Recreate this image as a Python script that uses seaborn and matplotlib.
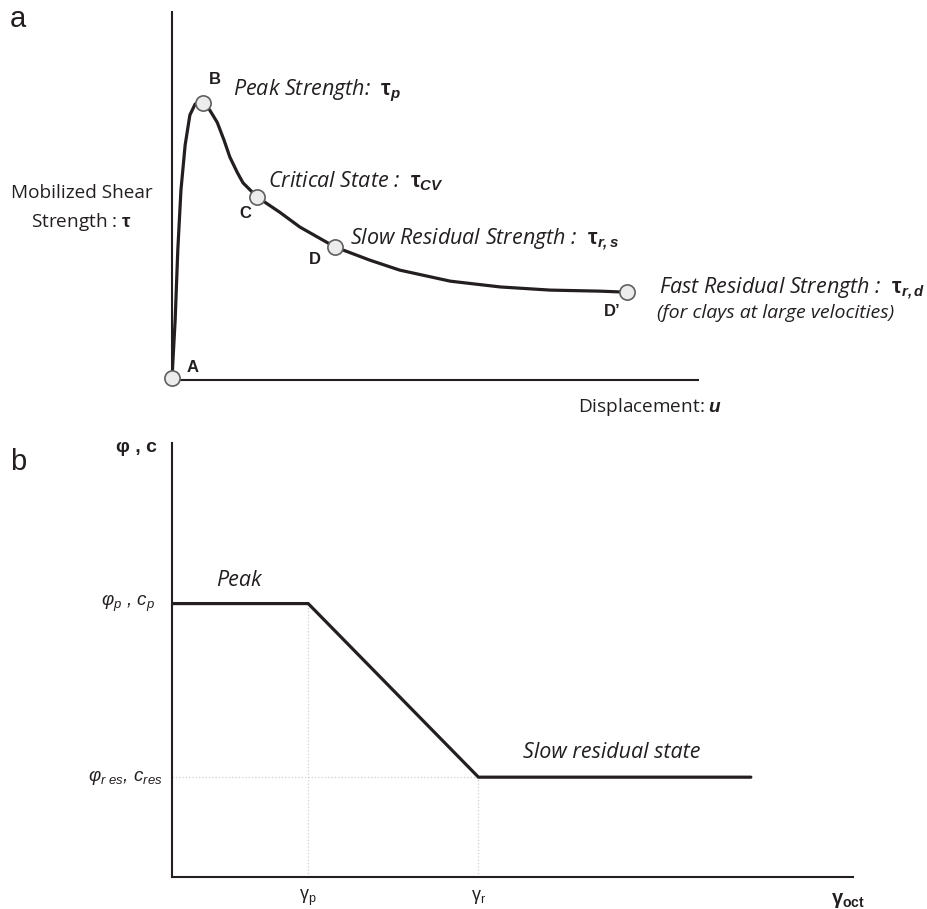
import numpy as np
import pandas as pd
import matplotlib.pyplot as plt
import seaborn as sns

# panel a - mobilized shear strength vs displacement (schematic units)
disp = [0, 0.6, 1.1, 1.7, 2.5, 3.4, 4.4, 5.9, 7.2, 8.6, 9.9, 11.0, 12.4, 13.5, 16.2,
        20.5, 24.3, 31.0, 37.6, 43.3, 52.9, 62.4, 71.9, 81.4, 86.5]
tau = [0.4, 11.4, 24.7, 36.1, 44.7, 50.4, 52.5, 52.7, 51.3, 49.0, 45.6, 42.4, 39.5, 37.5, 34.8,
       31.9, 29.1, 25.3, 22.8, 20.9, 18.8, 17.7, 17.1, 16.9, 16.7]
key_names = ['A', 'B', 'C', 'D', 'D\u2019']
key_disp = [0, 5.9, 16.2, 31.0, 86.5]
key_tau = [0.4, 52.7, 34.8, 25.3, 16.7]

# panel b - strength parameters vs octahedral shear strain
gamma = [0, 20, 45, 85]
strength = [63, 63, 23, 23]

sns.set_style('white')
plt.rcParams['font.family'] = ['Open Sans', 'DejaVu Sans']
plt.rcParams['mathtext.fontset'] = 'custom'
plt.rcParams['mathtext.rm'] = 'Liberation Sans'
plt.rcParams['mathtext.it'] = 'Liberation Sans:italic'
plt.rcParams['mathtext.bf'] = 'Liberation Sans:bold'
plt.rcParams['mathtext.bfit'] = 'Liberation Sans:bold:italic'

W, H = 927, 909
fig = plt.figure(figsize=(W / 100, H / 100), dpi=100)


def px(x, y):
    return x / W, 1 - y / H


ink = '#231f20'

# ---------------- panel a ----------------
ax1 = fig.add_axes([172 / W, 1 - 380 / H, 526 / W, 368 / H])
df_a = pd.DataFrame({'u': disp, 'tau': tau})
sns.lineplot(data=df_a, x='u', y='tau', sort=False, ax=ax1, color=ink, lw=2.3)
sns.scatterplot(x=key_disp, y=key_tau, ax=ax1, s=120, color='#ececec',
                edgecolor='#5f5f5f', linewidth=1.2, zorder=5, clip_on=False)
ax1.set_xlim(0, 100)
ax1.set_ylim(0, 70)
ax1.set_xticks([])
ax1.set_yticks([])
ax1.set_xlabel('')
ax1.set_ylabel('')
sns.despine(ax=ax1)
for s in ['left', 'bottom']:
    ax1.spines[s].set_color(ink)
    ax1.spines[s].set_linewidth(1.5)

bold = dict(family='Liberation Sans', weight='bold', fontsize=12, color=ink,
            ha='center', va='center')
for name, pos in zip(key_names, [(193, 367), (215, 80), (245, 213), (315, 260), (612, 311)]):
    fig.text(*px(*pos), name, **bold)

ital = dict(fontstyle='italic', fontsize=15.5, color=ink, ha='left', va='baseline')
fig.text(*px(233, 95), r'Peak Strength:  $\mathbf{\tau}_{\mathbfit{p}}$', **ital)
fig.text(*px(268, 187), r'Critical State :  $\mathbf{\tau}_{\mathbfit{CV}}$', **ital)
fig.text(*px(350, 244), r'Slow Residual Strength :  $\mathbf{\tau}_{\mathbfit{r,s}}$', **ital)
fig.text(*px(659, 293), r'Fast Residual Strength :  $\mathbf{\tau}_{\mathbfit{r,d}}$', **ital)
fig.text(*px(657, 318), '(for clays at large velocities)', fontstyle='italic', fontsize=14,
         color=ink, ha='left', va='baseline')

fig.text(*px(82, 193), 'Mobilized Shear', fontsize=13.7, color=ink, ha='center', va='center')
fig.text(*px(82, 222), r'Strength : $\mathbf{\tau}$', fontsize=13.7, color=ink,
         ha='center', va='center')
fig.text(*px(578, 407), r'Displacement: $\mathbfit{u}$', fontsize=13.7, color=ink,
         ha='left', va='center')
fig.text(*px(10, 19), 'a', family='Liberation Sans', fontsize=21, color=ink, va='center')

# ---------------- panel b ----------------
ax2 = fig.add_axes([172 / W, 1 - 877 / H, 681 / W, 434 / H])
df_b = pd.DataFrame({'gamma': gamma, 'strength': strength})
sns.lineplot(data=df_b, x='gamma', y='strength', sort=False, ax=ax2, color=ink, lw=2.3)
guide = dict(color='#cfcfcf', lw=0.9, ls=':', zorder=0)
ax2.plot([gamma[1], gamma[1]], [0, strength[1]], **guide)
ax2.plot([gamma[2], gamma[2]], [0, strength[2]], **guide)
ax2.plot([0, gamma[2]], [strength[2], strength[2]], **guide)
ax2.set_xlim(0, 100)
ax2.set_ylim(0, 100)
ax2.set_xlabel('')
ax2.set_ylabel('')
ax2.set_yticks([])
ax2.set_xticks([gamma[1], gamma[2]], [r'γ$_\mathrm{p}$', r'γ$_\mathrm{r}$'],
               family='Liberation Sans', fontsize=13, color=ink)
ax2.tick_params(axis='x', length=0, pad=8)
sns.despine(ax=ax2)
for s in ['left', 'bottom']:
    ax2.spines[s].set_color(ink)
    ax2.spines[s].set_linewidth(1.5)

yt = ax2.get_yaxis_transform()
ax2.text(-0.025, strength[0], r'φ$_p$ , c$_p$', transform=yt, family='Liberation Sans',
         fontstyle='italic', fontsize=13.5, color=ink, ha='right', va='center')
ax2.text(-0.013, strength[2], r'φ$_{r\ es}$, c$_{res}$', transform=yt, family='Liberation Sans',
         fontstyle='italic', fontsize=13.5, color=ink, ha='right', va='center')

fig.text(*px(157, 447), 'φ , c', family='Liberation Sans', weight='bold', fontsize=14,
         color=ink, ha='right', va='center')
fig.text(*px(239, 580), 'Peak', fontstyle='italic', fontsize=15.5, color=ink,
         ha='center', va='center')
fig.text(*px(612, 752), 'Slow residual state', fontstyle='italic', fontsize=15.5, color=ink,
         ha='center', va='center')
fig.text(*px(831, 900), r'γ$_\mathbf{oct}$', family='Liberation Sans', weight='bold',
         fontsize=14.5, color=ink, ha='left', va='center')
fig.text(*px(10, 462), 'b', family='Liberation Sans', fontsize=21, color=ink, va='center')

fig.savefig('out.png', dpi=100, facecolor='white')
